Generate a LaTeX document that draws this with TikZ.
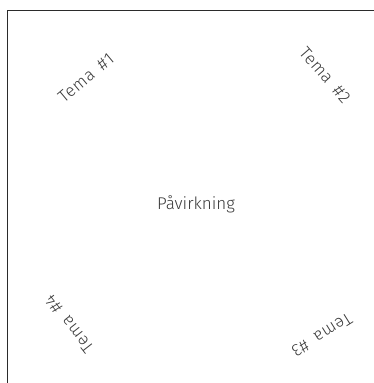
\documentclass[tikz,border=0pt]{standalone}
\usepackage{fontspec}
\setmainfont{Fira Sans}[UprightFont={* Light}]
\newfontfamily\temafont{Fira Sans}[UprightFont={* Light}, WordSpace=1.7, LetterSpace=3]
\usepackage{tikz}
\usetikzlibrary{positioning}
\definecolor{pvInk}{HTML}{3A3A3A}
\definecolor{pvFrame}{HTML}{2B2B2B}
\tikzset{
  pvlabel/.style={font=\fontsize{17}{20}\selectfont, text=pvInk, inner sep=1pt},
  temalabel/.style={pvlabel, font=\temafont\fontsize{17}{20}\selectfont},
  frameline/.style={draw=pvFrame, line width=1pt}
}
\begin{document}
\begin{tikzpicture}[x=1pt, y=1pt]
  \clip (0,0) rectangle (374,383);
  \draw[frameline] (7.5,-20) rectangle (400,372.5);
  \node[pvlabel] (pavirkning) at (196,179) {Påvirkning};
  \node[temalabel, rotate=40] (tema1) at (86,305) {Tema \#1};
  \node[temalabel, rotate=-49] (tema2) at (325,308) {Tema \#2};
  \node[temalabel, rotate=212] (tema3) at (322,48) {Tema \#3};
  \node[temalabel, rotate=128] (tema4) at (69,59) {Tema \#4};
\end{tikzpicture}
\end{document}
